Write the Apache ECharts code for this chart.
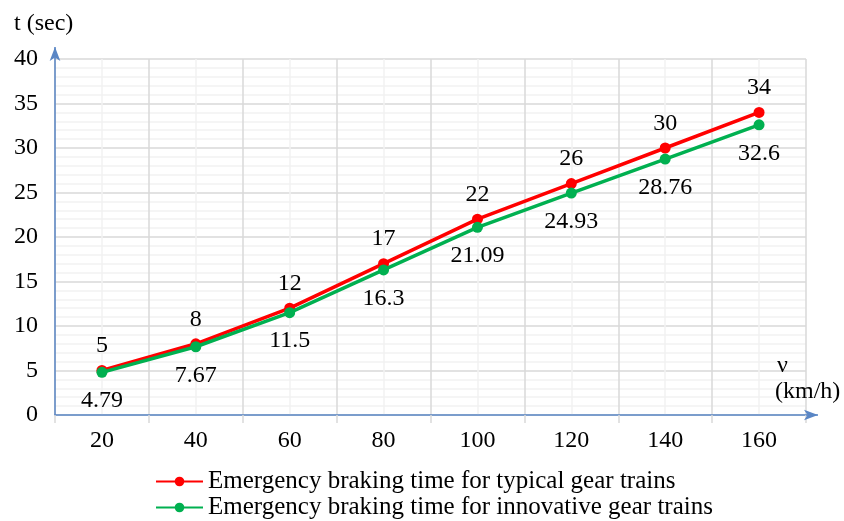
<!DOCTYPE html>
<html><head><meta charset="utf-8">
<script src="https://cdn.jsdelivr.net/npm/echarts@6/dist/echarts.min.js"></script>
<style>html,body{margin:0;padding:0;background:#fff}#c{width:844px;height:521px}</style>
</head><body><div id="c"></div>
<script>
const categories = ['20','40','60','80','100','120','140','160'];
const typicalTimes = [5, 8, 12, 17, 22, 26, 30, 34];
const innovativeTimes = [4.79, 7.67, 11.5, 16.3, 21.09, 24.93, 28.76, 32.6];
const seriesNames = ['Emergency braking time for typical gear trains', 'Emergency braking time for innovative gear trains'];
const yTitle = 't (sec)';
const xTitle1 = 'ν';
const xTitle2 = '(km/h)';

const FONT = '"Liberation Serif", "Times New Roman", serif';
const chart = echarts.init(document.getElementById('c'));
chart.setOption({
  animation: false,
  grid: { left: 55, right: 38, top: 59, bottom: 106, containLabel: false },
  xAxis: [
    {
      type: 'category', data: categories, boundaryGap: true,
      axisLine: { show: true, lineStyle: { color: '#5A86C5', width: 1.5 }, symbol: ['none', 'arrow'], symbolSize: [8, 14], symbolOffset: [0, 12] },
      axisTick: { show: true, alignWithLabel: false, length: 8, lineStyle: { color: '#d9d9d9', width: 1.5 } },
      axisLabel: { color: '#000', fontFamily: FONT, fontSize: 24, margin: 14 },
      splitLine: { show: false }
    },
    {
      type: 'value', min: 0, max: 16, interval: 2, show: true, position: 'bottom',
      axisLine: { show: false }, axisTick: { show: false }, axisLabel: { show: false },
      splitLine: { show: true, lineStyle: { color: '#d9d9d9', width: 1.5 } },
      minorTick: { show: false, splitNumber: 2 },
      minorSplitLine: { show: true, lineStyle: { color: '#f2f2f2', width: 1.5 } }
    }
  ],
  yAxis: {
    type: 'value', min: 0, max: 40, interval: 5,
    axisLine: { show: true, lineStyle: { color: '#5A86C5', width: 1.5 }, symbol: ['none', 'arrow'], symbolSize: [8, 14], symbolOffset: [0, 12] },
    axisTick: { show: false },
    axisLabel: { color: '#000', fontFamily: FONT, fontSize: 24, margin: 17 },
    splitLine: { show: true, lineStyle: { color: '#d9d9d9', width: 1.5 } },
    minorTick: { show: false, splitNumber: 5 },
    minorSplitLine: { show: true, lineStyle: { color: '#f2f2f2', width: 1.5 } }
  },
  legend: {
    orient: 'vertical', left: 155, top: 469, padding: 0, itemWidth: 47, itemHeight: 12, itemGap: 1,
    textStyle: { fontFamily: FONT, fontSize: 25, color: '#000', lineHeight: 25 },
    data: seriesNames
  },
  graphic: [
    { type: 'line', shape: { x1: 55, y1: 59, x2: 55, y2: 47 }, style: { stroke: '#5A86C5', lineWidth: 1.5 }, z: 5 },
    { type: 'line', shape: { x1: 806, y1: 415, x2: 818, y2: 415 }, style: { stroke: '#5A86C5', lineWidth: 1.5 }, z: 5 },
    { type: 'text', left: 14, top: 12, z: 100, style: { text: yTitle, font: '24px ' + FONT, fill: '#000' } },
    { type: 'text', left: 777, top: 354, z: 100, style: { text: xTitle1, font: '24px ' + FONT, fill: '#000' } },
    { type: 'text', left: 775, top: 380, z: 100, style: { text: xTitle2, font: '24px ' + FONT, fill: '#000' } }
  ],
  series: [
    {
      name: seriesNames[0], type: 'line', xAxisIndex: 0, data: typicalTimes,
      symbol: 'circle', symbolSize: 11,
      lineStyle: { color: '#FF0000', width: 3.5 }, itemStyle: { color: '#FF0000' },
      label: { show: true, position: 'top', distance: 7, color: '#000', fontFamily: FONT, fontSize: 24 },
      z: 3
    },
    {
      name: seriesNames[1], type: 'line', xAxisIndex: 0, data: innovativeTimes,
      symbol: 'circle', symbolSize: 11,
      lineStyle: { color: '#00B050', width: 3.5 }, itemStyle: { color: '#00B050' },
      label: { show: true, position: 'bottom', distance: 11, color: '#000', fontFamily: FONT, fontSize: 24 },
      z: 4
    }
  ]
});
</script></body></html>
